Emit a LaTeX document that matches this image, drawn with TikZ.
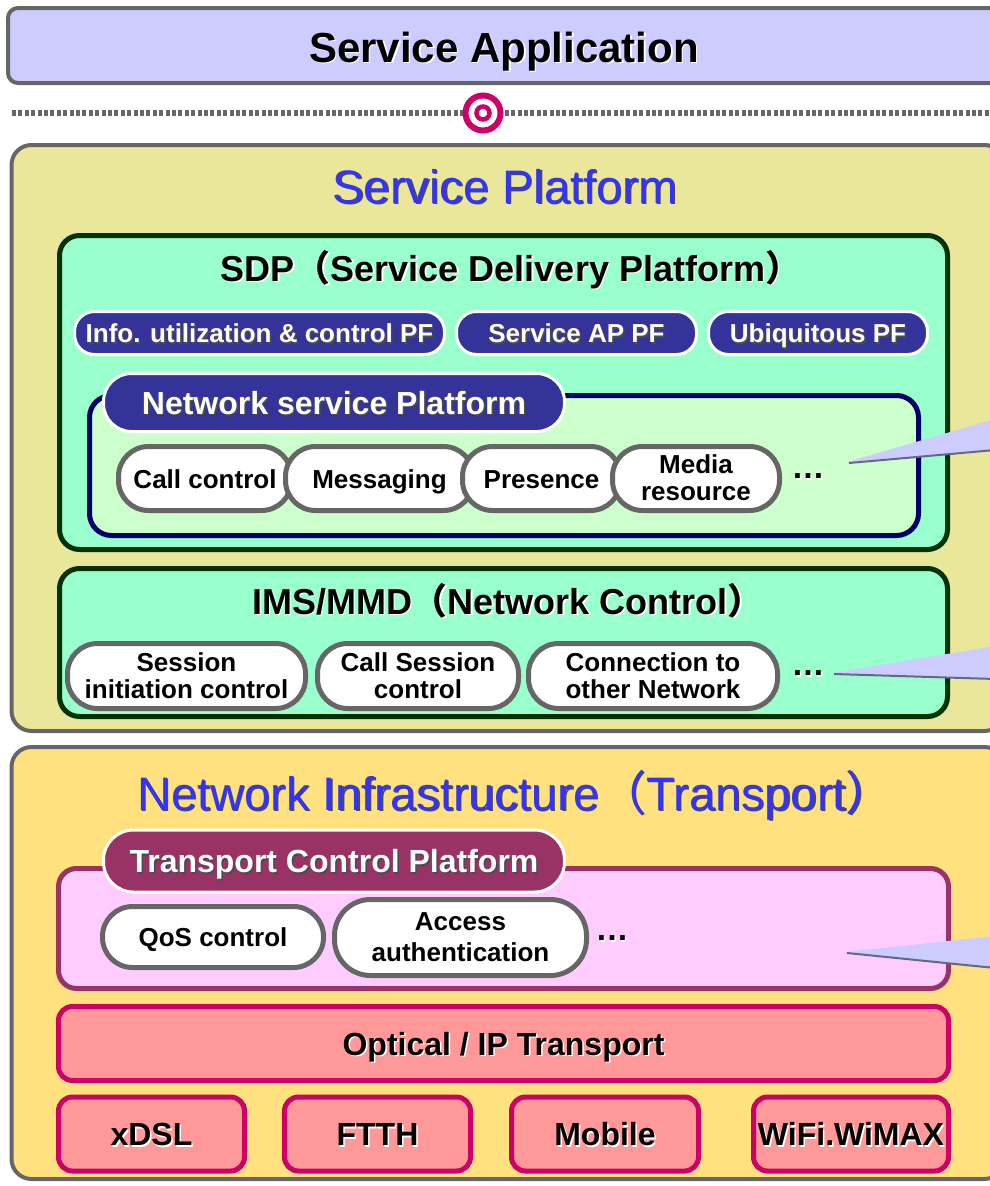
\documentclass[tikz,border=0pt]{standalone}
\usepackage{fontspec}
\setmainfont{Liberation Sans}
\newfontfamily\cjk{Noto Sans CJK SC}
\usetikzlibrary{shapes.misc}

\definecolor{edgegray}{HTML}{666666}
\definecolor{appfill}{HTML}{CCCCFF}
\definecolor{spfill}{HTML}{EAE79B}
\definecolor{sdpfill}{HTML}{99FFCC}
\definecolor{sdpline}{HTML}{003300}
\definecolor{pffill}{HTML}{333399}
\definecolor{nspfill}{HTML}{CCFFCC}
\definecolor{nspline}{HTML}{000066}
\definecolor{nifill}{HTML}{FFE180}
\definecolor{tcpfill}{HTML}{FFCCFF}
\definecolor{tcpline}{HTML}{993366}
\definecolor{optfill}{HTML}{FF9999}
\definecolor{optline}{HTML}{CC0066}
\definecolor{titleblue}{HTML}{3333FF}
\definecolor{wedgefill}{HTML}{CCCCFF}
\definecolor{wedgeshade}{HTML}{666688}

% text with a small offset shadow
\newcommand\shd[2]{\makebox[0pt][l]{\hspace{1.5pt}\raisebox{-1.5pt}{\textcolor{#1}{#2}}}#2}
\newcommand\lpar{{\cjk （}}
\newcommand\rpar{{\cjk ）}}

\tikzset{
  box/.style={rectangle, inner sep=0pt},
  oneline/.style={text height=#1, text depth=0pt},
  layer/.style={box, draw=edgegray, line width=4pt, rounded corners=20pt},
  sdpbox/.style={box, fill=sdpfill, draw=sdpline, line width=5pt, rounded corners=20pt},
  groupbox/.style={box, line width=5pt, rounded corners=22pt},
  pfpill/.style={box, fill=pffill, draw=white, line width=3pt, text=white, oneline=19pt,
    font=\bfseries\fontsize{26}{26}\selectfont},
  item/.style={box, fill=white, draw=edgegray, line width=5pt, align=center,
    font=\bfseries\fontsize{26}{27}\selectfont, rounded corners=30pt},
  netbox/.style={box, fill=optfill, draw=optline, line width=5pt, rounded corners=14pt,
    oneline=23pt, font=\bfseries\fontsize{32}{32}\selectfont},
  bigtitle/.style={text=titleblue, oneline=34pt, font=\fontsize{47}{47}\selectfont},
  subtitle/.style={oneline=26pt, font=\bfseries\fontsize{36}{36}\selectfont},
  more/.style={font=\bfseries\fontsize{33}{33}\selectfont},
}

\begin{document}
\begin{tikzpicture}[x=1pt, y=-1pt]
\useasboundingbox (0,0) rectangle (989,1186);

% application layer
\node[layer, fill=appfill, minimum width=996pt, minimum height=75pt, rounded corners=10pt] (app) at (506,45.5) {};
\node[oneline=30pt, font=\bfseries\fontsize{42}{42}\selectfont] (apptitle) at (504,47) {\shd{white}{Service Application}};

% interface
\coordinate (ifl) at (12,113);
\coordinate (ifr) at (989,113);
\draw[edgegray, line width=6pt, dash pattern=on 4pt off 2.4pt] (ifl) -- (ifr);
\node[circle, fill=white, draw=optline, line width=6pt, minimum size=35pt, inner sep=0pt] (ref) at (483,113) {};
\node[circle, fill=white, draw=optline, line width=4.5pt, minimum size=13pt, inner sep=0pt] (refin) at (ref) {};

% service platform
\node[layer, fill=spfill, minimum width=993pt, minimum height=586pt] (sp) at (508,438) {};
\node[bigtitle] (sptitle) at (505,186) {\shd{black!70}{Service Platform}};

\node[sdpbox, minimum width=888pt, minimum height=314pt] (sdp) at (503.5,392.5) {};
\node[subtitle] (sdptitle) at (511,268) {\shd{white}{SDP\lpar Service Delivery Platform\rpar}};

\node[pfpill, minimum width=370pt, minimum height=43pt, rounded corners=20pt] (info) at (259.5,333) {\shd{black!70}{Info. utilization \& control PF}};
\node[pfpill, minimum width=240pt, minimum height=43pt, rounded corners=20pt] (svcap) at (576.5,333) {\shd{black!70}{Service AP PF}};
\node[pfpill, minimum width=219pt, minimum height=43pt, rounded corners=20pt] (ubiq) at (818,333) {\shd{black!70}{Ubiquitous PF}};

\node[groupbox, fill=nspfill, draw=nspline, minimum width=829pt, minimum height=140pt] (nsp) at (504,465.5) {};
\node[pfpill, minimum width=461pt, minimum height=58pt, rounded corners=28pt, oneline=23pt, font=\bfseries\fontsize{32}{32}\selectfont] (nsptab) at (334,402.5) {\shd{black!70}{Network service Platform}};

\node[item, oneline=19pt, minimum width=173pt, minimum height=64pt] (callctl) at (205,478.5) {\shd{white}{Call control}};
\node[item, oneline=19pt, minimum width=188pt, minimum height=64pt] (msg) at (379.5,478.5) {\shd{white}{Messaging}};
\node[item, oneline=19pt, minimum width=158pt, minimum height=64pt] (pres) at (541.5,478.5) {\shd{white}{Presence}};
\node[item, minimum width=167pt, minimum height=64pt] (media) at (696,478.5) {\shd{white}{Media}\\\shd{white}{resource}};
\node[more] (nspmore) at (808,477) {\shd{white}{…}};

\node[sdpbox, minimum width=888pt, minimum height=148pt] (ims) at (503.5,642.5) {};
\node[subtitle] (imstitle) at (508,601) {\shd{white}{IMS/MMD\lpar Network Control\rpar}};

\node[item, minimum width=238pt, minimum height=65pt] (sess) at (186.5,676) {\shd{white}{Session}\\\shd{white}{initiation control}};
\node[item, minimum width=201pt, minimum height=65pt] (callsess) at (418,676) {\shd{white}{Call Session}\\\shd{white}{control}};
\node[item, minimum width=249pt, minimum height=65pt] (conn) at (653,676) {\shd{white}{Connection to}\\\shd{white}{other Network}};
\node[more] (imsmore) at (808,674) {\shd{white}{…}};

% network infrastructure
\node[layer, fill=nifill, minimum width=993pt, minimum height=432pt] (ni) at (508,963) {};
\node[bigtitle] (nititle) at (515,793) {\shd{black!70}{Network Infrastructure\lpar Transport\rpar}};

\node[groupbox, fill=tcpfill, draw=tcpline, minimum width=890pt, minimum height=120pt, rounded corners=18pt] (tcp) at (503.5,928.5) {};
\node[pfpill, fill=tcpline, minimum width=461pt, minimum height=62pt, rounded corners=30pt, oneline=23pt, font=\bfseries\fontsize{32}{32}\selectfont] (tcptab) at (334,861) {\shd{black!70}{Transport Control Platform}};

\node[item, oneline=19pt, minimum width=221pt, minimum height=61pt] (qos) at (213,937) {\shd{white}{QoS control}};
\node[item, minimum width=252pt, minimum height=76pt, rounded corners=36pt, font=\bfseries\fontsize{26}{31}\selectfont] (access) at (460.5,937.5) {\shd{white}{Access}\\\shd{white}{authentication}};
\node[more] (tcpmore) at (612,939) {\shd{white}{…}};

\node[netbox, minimum width=890pt, minimum height=74pt] (opt) at (503.5,1043.5) {\shd{white}{Optical / IP Transport}};
\node[netbox, minimum width=186pt, minimum height=74pt] (xdsl) at (151.5,1134) {\shd{white}{xDSL}};
\node[netbox, minimum width=186pt, minimum height=74pt] (ftth) at (377.5,1134) {\shd{white}{FTTH}};
\node[netbox, minimum width=187pt, minimum height=74pt] (mobile) at (605,1134) {\shd{white}{Mobile}};
\node[netbox, minimum width=195pt, minimum height=74pt] (wifi) at (851,1134) {\shd{white}{WiFi.WiMAX}};

% callout pointers coming in from the right
\foreach \tx/\ty/\ta/\tb in {847/462/419/450, 832/673/646/679, 845/952/936/968}
{
  \fill[wedgefill] (\tx,\ty) -- (995,\ta) -- (995,\tb) -- cycle;
  \draw[wedgeshade, line width=2pt] (\tx+2,\ty+1) -- (995,\tb);
}
\end{tikzpicture}
\end{document}
